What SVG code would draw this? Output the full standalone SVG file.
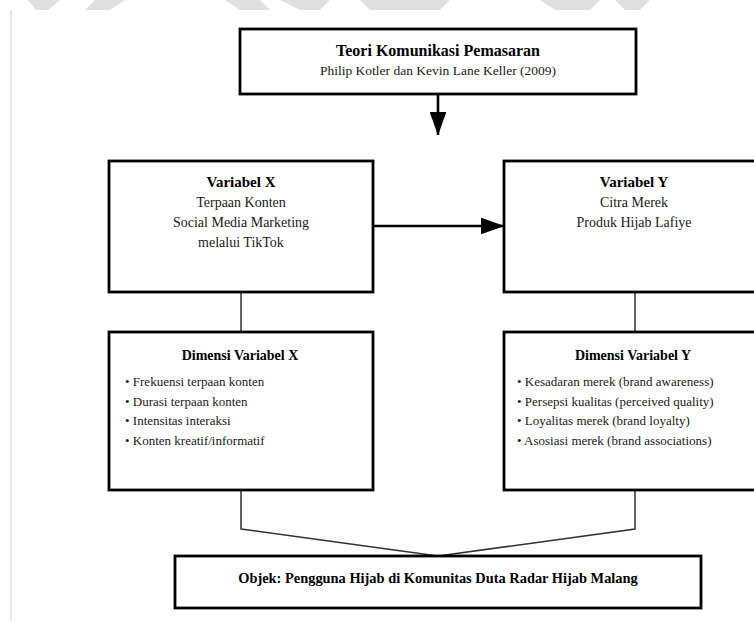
<svg xmlns="http://www.w3.org/2000/svg" width="754" height="621" viewBox="0 0 754 621">
<defs>
<style>
.box{fill:#fff;stroke:#000;stroke-width:2.8}
.t{font-family:"Liberation Serif","Times New Roman",serif;fill:#1a1a1a;text-anchor:middle}
.b{font-weight:bold;fill:#000}
.l{font-family:"Liberation Serif","Times New Roman",serif;fill:#1a1a1a;font-size:13px}
.thin{fill:none;stroke:#333;stroke-width:1.5}
.thick{fill:none;stroke:#000;stroke-width:2.6}
.wm{fill:#e0e0e0}
</style>
<marker id="ah" markerWidth="24" markerHeight="17" refX="23.5" refY="8.5" orient="auto" markerUnits="userSpaceOnUse" viewBox="0 0 24 17">
<path d="M0,0 L24,8.5 L0,17 Z" fill="#000"/>
</marker>
</defs>
<rect width="754" height="621" fill="#fff"/>
<g id="background">
<path class="wm" d="M28,0 L60,0 L48,10 L36,10 Z"/>
<path class="wm" d="M95,0 L125,0 L110,10 L85,10 Z"/>
<path class="wm" d="M225,0 L260,0 L270,10 L240,10 Z"/>
<path class="wm" d="M280,0 L330,0 L320,10 L300,10 Z"/>
<path class="wm" d="M360,0 L450,0 L440,10 L370,10 Z"/>
<path class="wm" d="M540,0 L600,0 L590,10 L555,10 Z"/>
<path class="wm" d="M615,0 L650,0 L640,10 L625,10 Z"/>
<line x1="11" y1="10" x2="11" y2="621" stroke="#d0d0d0" stroke-width="1"/>
</g>
<g id="connectors">
<line class="thick" x1="438" y1="94" x2="438" y2="135" marker-end="url(#ah)"/>
<line class="thick" x1="373" y1="226" x2="504" y2="226" marker-end="url(#ah)"/>
<line class="thin" x1="241" y1="292" x2="241" y2="332"/>
<line class="thin" x1="635" y1="292" x2="635" y2="332"/>
<polyline class="thin" points="241,490 241,529 438,556"/>
<polyline class="thin" points="635,490 635,529 438,556"/>
</g>
<g id="teori">
<rect class="box" x="240" y="29" width="396" height="65"/>
<text class="t b" x="438" y="56" font-size="16">Teori Komunikasi Pemasaran</text>
<text class="t" x="438" y="75" font-size="13.5">Philip Kotler dan Kevin Lane Keller (2009)</text>
</g>
<g id="variabel-x">
<rect class="box" x="109" y="161" width="264" height="131"/>
<text class="t b" x="241" y="187" font-size="15">Variabel X</text>
<text class="t" x="241" y="207" font-size="14">Terpaan Konten</text>
<text class="t" x="241" y="227" font-size="14">Social Media Marketing</text>
<text class="t" x="241" y="247" font-size="14">melalui TikTok</text>
</g>
<g id="variabel-y">
<rect class="box" x="504" y="161" width="270" height="131"/>
<text class="t b" x="634" y="187" font-size="15">Variabel Y</text>
<text class="t" x="634" y="207" font-size="14">Citra Merek</text>
<text class="t" x="634" y="227" font-size="14">Produk Hijab Lafiye</text>
</g>
<g id="dimensi-x">
<rect class="box" x="109" y="332" width="264" height="158"/>
<text class="t b" x="240" y="360" font-size="14">Dimensi Variabel X</text>
<text class="l" x="125" y="386">• Frekuensi terpaan konten</text>
<text class="l" x="125" y="405.5">• Durasi terpaan konten</text>
<text class="l" x="125" y="425">• Intensitas interaksi</text>
<text class="l" x="125" y="444.5">• Konten kreatif/informatif</text>
</g>
<g id="dimensi-y">
<rect class="box" x="504" y="332" width="270" height="158"/>
<text class="t b" x="633" y="360" font-size="14">Dimensi Variabel Y</text>
<text class="l" x="517" y="386">• Kesadaran merek (brand awareness)</text>
<text class="l" x="517" y="405.5">• Persepsi kualitas (perceived quality)</text>
<text class="l" x="517" y="425">• Loyalitas merek (brand loyalty)</text>
<text class="l" x="517" y="444.5">• Asosiasi merek (brand associations)</text>
</g>
<g id="objek">
<rect class="box" x="175" y="556" width="526" height="52"/>
<text class="t b" x="438" y="583" font-size="14.4">Objek: Pengguna Hijab di Komunitas Duta Radar Hijab Malang</text>
</g>
</svg>
